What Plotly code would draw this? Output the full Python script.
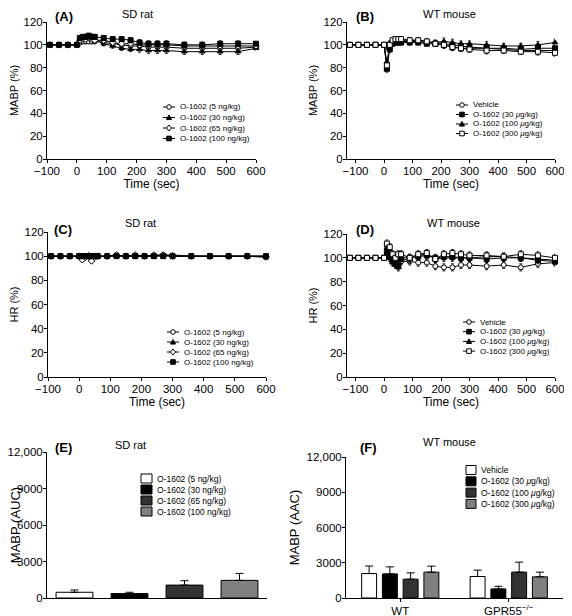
import plotly.graph_objects as go

# page body has an 8px default margin, so the figure is sized to fill the rest of the window
OFF = 8
W, H = 572 - OFF, 616 - OFF

# ---------------- data ----------------
t_rat = [-90, -60, -30, 0, 10, 20, 30, 40, 50, 60, 90, 120, 150, 180, 210, 240, 270, 300, 360, 420, 480, 540, 600]
t_mouse = [-120, -90, -60, -30, 0, 10, 20, 30, 40, 50, 60, 90, 120, 150, 180, 210, 240, 270, 300, 360, 420, 480, 540, 600]

rat_names = ["O-1602 (5 ng/kg)", "O-1602 (30 ng/kg)", "O-1602 (65 ng/kg)", "O-1602 (100 ng/kg)"]
mouse_names = ["Vehicle", "O-1602 (30 <i>μ</i>g/kg)", "O-1602 (100 <i>μ</i>g/kg)", "O-1602 (300 <i>μ</i>g/kg)"]

# Panel A: MABP (%) SD rat
a_5 = [100, 100, 100, 100, 102, 103, 103, 103, 103, 103, 102, 101, 100, 99, 99, 98, 98, 98, 97, 97, 97, 97, 98]
a_30 = [100, 100, 100, 100, 104, 105, 106, 106, 106, 105, 101, 99, 97, 96, 96, 95, 95, 95, 94, 94, 94, 94, 97]
a_65 = [100, 100, 100, 100, 104, 105, 105, 106, 105, 104, 104, 102, 101, 101, 100, 100, 100, 100, 99, 99, 99, 99, 99]
a_100 = [100, 100, 100, 100, 106, 107, 107, 108, 107, 107, 106, 105, 105, 104, 102, 101, 101, 101, 100, 100, 101, 101, 101]
a_err = [0.5, 0.5, 0.5, 0.5, 2, 2, 2, 2, 2, 2, 2, 2, 2, 2, 2.5, 2.5, 2.5, 2.5, 2.5, 2.5, 2.5, 2.5, 1.5]

# Panel B: MABP (%) WT mouse
b_veh = [100, 100, 100, 100, 100, 99, 101, 103, 104, 104, 104, 104, 104, 103, 102, 101, 100, 99, 98, 97, 96, 95, 95, 95]
b_30 = [100, 100, 100, 100, 100, 79, 96, 101, 102, 102, 102, 102, 102, 101, 101, 100, 98, 97, 97, 97, 97, 96, 97, 97]
b_100 = [100, 100, 100, 100, 100, 85, 98, 102, 103, 103, 103, 103, 103, 102, 102, 103, 102, 101, 101, 100, 99, 99, 100, 102]
b_300 = [100, 100, 100, 100, 100, 82, 100, 104, 105, 105, 105, 104, 104, 103, 101, 100, 98, 97, 96, 95, 95, 94, 94, 93]
b_err = [0.5, 0.5, 0.5, 0.5, 0.5, 3, 2.5, 2, 2, 2, 2, 2, 2, 2, 2, 3, 3, 2.5, 2.5, 3, 2.5, 2.5, 3, 3]

# Panel C: HR (%) SD rat
c_5 = [100, 100, 100, 100, 99, 100, 100, 99, 100, 100, 100, 101, 100, 100, 100, 100, 101, 100, 100, 100, 100, 100, 99]
c_30 = [100, 100, 100, 100, 100, 100, 101, 100, 100, 100, 100, 100, 100, 100, 100, 100, 101, 101, 100, 100, 100, 100, 100]
c_65 = [100, 100, 100, 100, 97, 99, 100, 96, 99, 100, 100, 101, 100, 101, 100, 101, 101, 100, 100, 100, 100, 100, 100]
c_100 = [100, 100, 100, 100, 100, 100, 100, 100, 100, 100, 100, 100, 100, 100, 100, 100, 100, 100, 100, 100, 100, 100, 100]
c_err = [0.3, 0.3, 0.3, 0.3, 1.5, 1, 1, 2, 1, 1, 0.8, 0.8, 0.8, 0.8, 0.8, 0.8, 0.8, 0.8, 0.8, 0.8, 0.8, 0.8, 0.8]

# Panel D: HR (%) WT mouse
d_veh = [100, 100, 100, 100, 100, 110, 105, 99, 97, 96, 97, 97, 96, 96, 93, 92, 92, 94, 94, 93, 94, 92, 95, 96]
d_30 = [100, 100, 100, 100, 100, 106, 101, 97, 95, 93, 100, 100, 101, 102, 100, 101, 101, 100, 100, 99, 100, 100, 98, 97]
d_100 = [100, 100, 100, 100, 100, 104, 100, 96, 94, 92, 98, 99, 102, 103, 99, 100, 100, 100, 100, 101, 101, 100, 99, 98]
d_300 = [100, 100, 100, 100, 100, 112, 109, 103, 100, 103, 103, 100, 103, 104, 99, 103, 104, 103, 102, 102, 101, 103, 102, 100]
d_err = [0.5, 0.5, 0.5, 0.5, 0.5, 3, 3, 3, 3, 3, 3, 3, 3, 3, 3, 3, 3, 3, 3, 3, 3, 3, 3, 3]

# Panel E: MABP (AUC) SD rat
e_labels = ["5 ng/kg", "30 ng/kg", "65 ng/kg", "100 ng/kg"]
e_vals = [470, 360, 1060, 1450]
e_errs = [190, 110, 360, 570]

# Panel F: MABP (AAC) WT mouse
f_groups = ["WT", "GPR55<sup>−/−</sup>"]
f_vals = [[2080, 1830], [2050, 770], [1600, 2200], [2200, 1800]]
f_errs = [[640, 540], [600, 230], [540, 850], [510, 400]]

bar_colors = ["#ffffff", "#000000", "#333333", "#808080"]
y_ticks_pct = [0, 20, 40, 60, 80, 100, 120]
x_ticks_time = [-100, 0, 100, 200, 300, 400, 500, 600]
auc_ticks = [0, 3000, 6000, 9000, 12000]
auc_ticktext = ["0", "3000", "6000", "9000", "12,000"]

# ---------------- styles ----------------
FONT = "Arial, Liberation Sans, sans-serif"
rat_markers = [("circle", "white"), ("triangle-up", "black"), ("diamond", "white"), ("square", "black")]
mouse_markers = [("circle", "white"), ("square", "black"), ("triangle-up", "black"), ("square", "white")]


def px_x(p):
    return (p - OFF) / W


def px_y(p):
    return 1 - (p - OFF) / H


fig = go.Figure()


def add_lines(t, series, names, markers, err, xa, ya):
    for ys, nm, (sym, col) in zip(series, names, markers):
        fig.add_trace(go.Scatter(
            x=t, y=ys, name=nm, mode="lines+markers", xaxis=xa, yaxis=ya, showlegend=False,
            line=dict(color="black", width=1),
            marker=dict(symbol=sym, color=col, size=5, line=dict(color="black", width=1)),
            error_y=dict(type="data", array=err, color="black", thickness=0.8, width=1.5),
            cliponaxis=False,
        ))


add_lines(t_rat, [a_5, a_30, a_65, a_100], rat_names, rat_markers, a_err, "x", "y")
add_lines(t_mouse, [b_veh, b_30, b_100, b_300], mouse_names, mouse_markers, b_err, "x2", "y2")
add_lines(t_rat, [c_5, c_30, c_65, c_100], rat_names, rat_markers, c_err, "x3", "y3")
add_lines(t_mouse, [d_veh, d_30, d_100, d_300], mouse_names, mouse_markers, d_err, "x4", "y4")

for lab, v, e, c, nm in zip(e_labels, e_vals, e_errs, bar_colors, rat_names):
    fig.add_trace(go.Bar(
        x=[lab], y=[v], name=nm, xaxis="x5", yaxis="y5", showlegend=False,
        marker=dict(color=c, line=dict(color="black", width=1)),
        offsetgroup="e", width=0.67,
        error_y=dict(type="data", array=[e], arrayminus=[0], symmetric=False,
                     color="black", thickness=1, width=4),
    ))

for v, e, c, nm in zip(f_vals, f_errs, bar_colors, mouse_names):
    fig.add_trace(go.Bar(
        x=f_groups, y=v, name=nm, xaxis="x6", yaxis="y6", showlegend=False,
        marker=dict(color=c, line=dict(color="black", width=1)),
        error_y=dict(type="data", array=e, arrayminus=[0, 0], symmetric=False,
                     color="black", thickness=1, width=4),
    ))

axis_common = dict(showline=True, linecolor="black", linewidth=1, ticks="outside", ticklen=3,
                   tickcolor="black", tickwidth=1, showgrid=False, zeroline=False, automargin=False,
                   ticklabeloverflow="allow",
                   tickfont=dict(family=FONT, size=11.5, color="black"))


def xaxis_time(dom, rng, anchor):
    return dict(axis_common, domain=[px_x(dom[0]), px_x(dom[1])], range=rng, anchor=anchor,
                tickvals=x_ticks_time, ticklabelstandoff=-2,
                title=dict(text="Time (sec)", font=dict(family=FONT, size=12, color="black"), standoff=3))


def yaxis_pct(dom, anchor, title):
    return dict(axis_common, domain=[px_y(dom[1]), px_y(dom[0])], range=[0, 120], anchor=anchor,
                tickvals=y_ticks_pct, ticklabelstandoff=-2,
                title=dict(text=title, font=dict(family=FONT, size=11, color="black"), standoff=3))


def yaxis_auc(dom, anchor, title):
    return dict(axis_common, domain=[px_y(dom[1]), px_y(dom[0])], range=[0, 12000], anchor=anchor,
                tickvals=auc_ticks, ticktext=auc_ticktext, ticklabelstandoff=-2,
                title=dict(text=title, font=dict(family=FONT, size=13, color="black"), standoff=3))


fig.update_layout(
    template="none",
    width=W, height=H, margin=dict(l=0, r=0, t=0, b=0),
    paper_bgcolor="white", plot_bgcolor="white",
    font=dict(family=FONT, color="black"),
    barmode="group", bargap=0.235, bargroupgap=0.28,
    showlegend=False, hovermode="closest",
    xaxis=xaxis_time((47, 256), [-100, 600], "y"),
    yaxis=yaxis_pct((22, 159), "x", "MABP (%)"),
    xaxis2=xaxis_time((347, 555), [-130, 600], "y2"),
    yaxis2=yaxis_pct((22, 159), "x2", "MABP (%)"),
    xaxis3=xaxis_time((48, 266), [-100, 600], "y3"),
    yaxis3=yaxis_pct((232, 377), "x3", "HR (%)"),
    xaxis4=xaxis_time((347, 555), [-130, 600], "y4"),
    yaxis4=yaxis_pct((234, 377), "x4", "HR (%)"),
    xaxis5=dict(axis_common, domain=[px_x(47), px_x(267)], anchor="y5", type="category",
                showticklabels=False, ticks=""),
    yaxis5=yaxis_auc((452, 598), "x5", "MABP (AUC)"),
    xaxis6=dict(axis_common, domain=[px_x(346), px_x(563)], anchor="y6", type="category",
                ticklabelstandoff=-1),
    yaxis6=yaxis_auc((457, 598), "x6", "MABP (AAC)"),
)

# ---------------- legends (drawn compactly, as in the reference) ----------------
shapes = []
LEG_FONT = 8


def marker_shape(sym, col, cx, cy, r):
    base = dict(xref="paper", yref="paper", fillcolor=col, line=dict(color="black", width=1), layer="above")
    if sym == "circle":
        return dict(base, type="circle", x0=px_x(cx - r), x1=px_x(cx + r), y0=px_y(cy + r), y1=px_y(cy - r))
    if sym == "square":
        return dict(base, type="rect", x0=px_x(cx - r), x1=px_x(cx + r), y0=px_y(cy + r), y1=px_y(cy - r))
    if sym == "triangle-up":
        pts = [(cx - r * 1.1, cy + r * 0.9), (cx + r * 1.1, cy + r * 0.9), (cx, cy - r * 1.1)]
    else:  # diamond
        pts = [(cx, cy - r * 1.3), (cx + r * 1.1, cy), (cx, cy + r * 1.3), (cx - r * 1.1, cy)]
    path = "M" + " L".join(f"{px_x(x):.5f},{px_y(y):.5f}" for x, y in pts) + " Z"
    return dict(base, type="path", path=path)


def line_legend(x0, y0, step, names, markers):
    for i, (nm, (sym, col)) in enumerate(zip(names, markers)):
        cy = y0 + i * step
        shapes.append(dict(type="line", xref="paper", yref="paper", x0=px_x(x0), x1=px_x(x0 + 12),
                           y0=px_y(cy), y1=px_y(cy), line=dict(color="black", width=1), layer="above"))
        shapes.append(marker_shape(sym, col, x0 + 6, cy, 2.3))
        fig.add_annotation(text=nm, x=px_x(x0 + 15), y=px_y(cy), xref="paper", yref="paper",
                           xanchor="left", yanchor="middle", showarrow=False,
                           font=dict(family=FONT, size=LEG_FONT, color="black"))


def bar_legend(x0, y0, step, names, colors, bw=10, bh=9):
    for i, (nm, col) in enumerate(zip(names, colors)):
        cy = y0 + i * step
        shapes.append(dict(type="rect", xref="paper", yref="paper", x0=px_x(x0), x1=px_x(x0 + bw),
                           y0=px_y(cy + bh / 2), y1=px_y(cy - bh / 2), fillcolor=col,
                           line=dict(color="black", width=1), layer="above"))
        fig.add_annotation(text=nm, x=px_x(x0 + bw + 3), y=px_y(cy), xref="paper", yref="paper",
                           xanchor="left", yanchor="middle", showarrow=False,
                           font=dict(family=FONT, size=8.5, color="black"))


line_legend(163, 107, 10.5, rat_names, rat_markers)
line_legend(456, 105, 9.5, mouse_names, mouse_markers)
line_legend(167, 332, 10, rat_names, rat_markers)
line_legend(463, 322, 9.7, mouse_names, mouse_markers)
bar_legend(141, 478.5, 11, rat_names, bar_colors, bw=11)
bar_legend(466, 470, 11.3, mouse_names, bar_colors, bw=10)

panel_titles = [
    ("(A)", 53, 16, "SD rat", 137, 14),
    ("(B)", 354, 16, "WT mouse", 449, 14),
    ("(C)", 52, 230, "SD rat", 140, 223),
    ("(D)", 354, 230, "WT mouse", 453, 223),
    ("(E)", 53, 447, "SD rat", 130, 445),
    ("(F)", 358, 447, "WT mouse", 449, 442),
]
for lab, lx, ly, ttl, tx, ty in panel_titles:
    fig.add_annotation(text="<b>" + lab + "</b>", x=px_x(lx), y=px_y(ly), xref="paper", yref="paper",
                       xanchor="left", yanchor="middle", showarrow=False,
                       font=dict(family=FONT, size=13, color="black"))
    fig.add_annotation(text=ttl, x=px_x(tx), y=px_y(ty), xref="paper", yref="paper",
                       xanchor="center", yanchor="middle", showarrow=False,
                       font=dict(family=FONT, size=11, color="black"))

fig.update_layout(shapes=shapes)
fig.write_html("out.html")
